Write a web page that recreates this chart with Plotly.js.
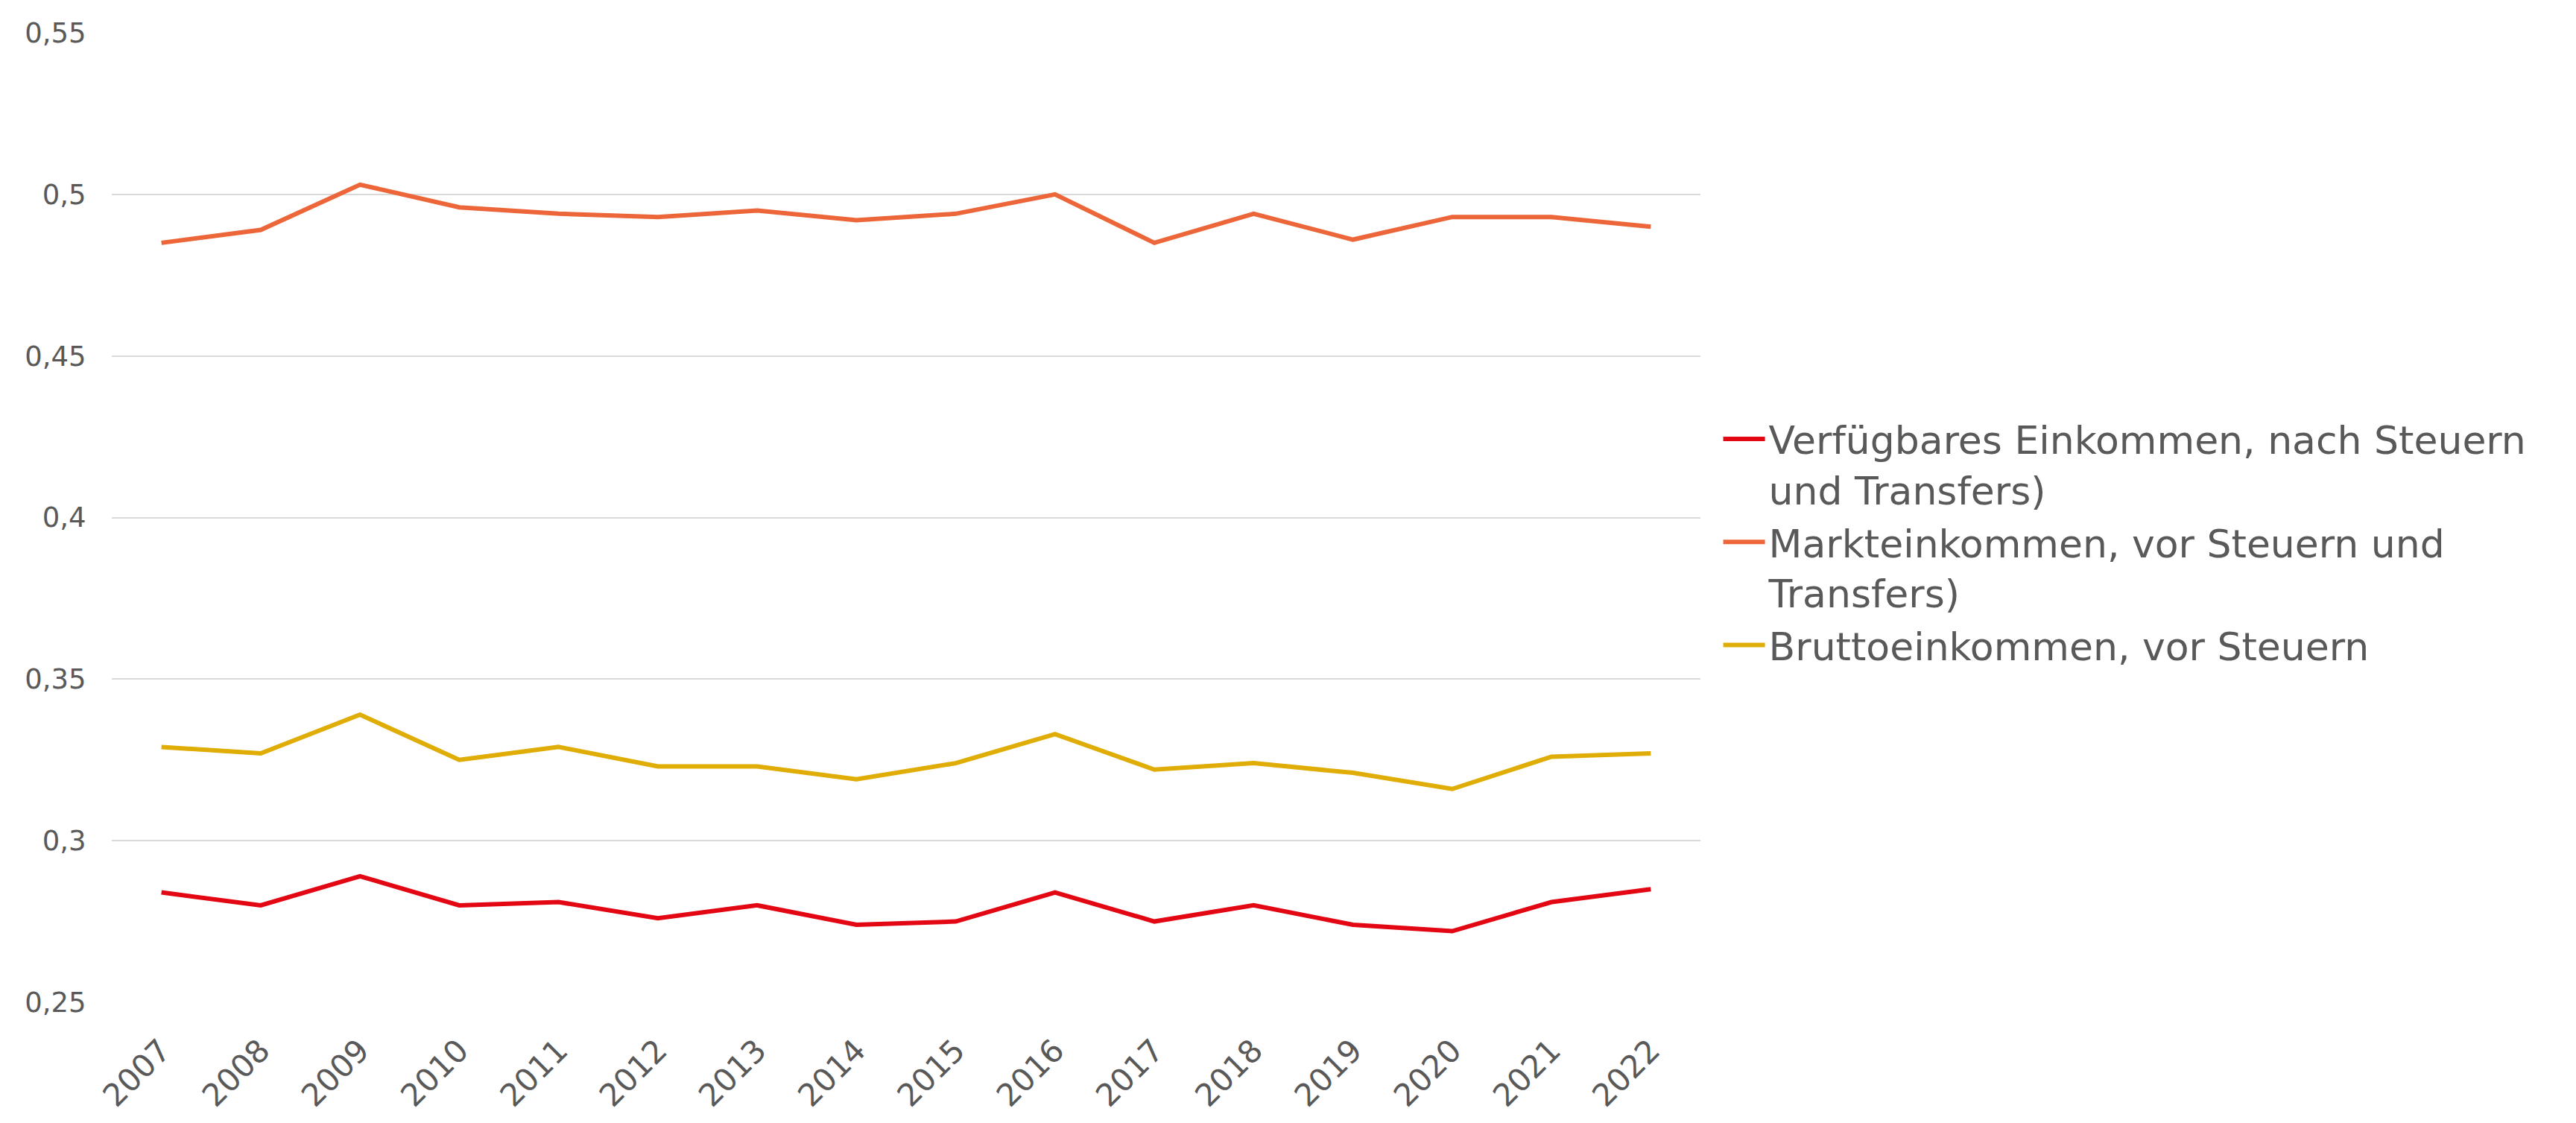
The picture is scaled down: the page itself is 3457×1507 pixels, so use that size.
<!DOCTYPE html>
<html>
<head>
<meta charset="utf-8">
<script src="https://cdn.plot.ly/plotly-3.0.1.min.js"></script>
<style>html,body{margin:0;padding:0;background:#fff;}#chart{width:3457px;height:1507px;}</style>
</head>
<body>
<div id="chart"></div>
<script>
const years = ["2007","2008","2009","2010","2011","2012","2013","2014","2015","2016","2017","2018","2019","2020","2021","2022"];
const verfuegbar = [0.284,0.280,0.289,0.280,0.281,0.276,0.280,0.274,0.275,0.284,0.275,0.280,0.274,0.272,0.281,0.285];
const markt = [0.485,0.489,0.503,0.496,0.494,0.493,0.495,0.492,0.494,0.500,0.485,0.494,0.486,0.493,0.493,0.490];
const brutto = [0.329,0.327,0.339,0.325,0.329,0.323,0.323,0.319,0.324,0.333,0.322,0.324,0.321,0.316,0.326,0.327];
const seriesNames = ["Verfügbares Einkommen, nach Steuern<br>und Transfers)", "Markteinkommen, vor Steuern und<br>Transfers)", "Bruttoeinkommen, vor Steuern"];
const yTickVals = [0.25,0.3,0.35,0.4,0.45,0.5,0.55];
const yTickText = ["0,25","0,3","0,35","0,4","0,45","0,5","0,55"];

const font = "'DejaVu Sans', sans-serif";
const txt = "#595959";
const colors = ["#e30613","#ec663a","#dfad05"];
const data = [verfuegbar, markt, brutto].map((v,i)=>({
  type:"scatter", mode:"lines", x:years, y:v, name:seriesNames[i],
  line:{color:colors[i], width:6}
}));

const layout = {
  width:3457, height:1507,
  paper_bgcolor:"#fff", plot_bgcolor:"#fff",
  margin:{l:150, r:1175, t:44, b:162},
  font:{family:font, color:txt},
  showlegend:true,
  legend:{x:1.012, xanchor:"left", y:0.612, yanchor:"top", valign:"top", itemwidth:56,
    font:{family:font, size:52, color:txt}, bgcolor:"rgba(0,0,0,0)", traceorder:"normal", tracegroupgap:0},
  xaxis:{type:"category", range:[-0.5,15.5], tickangle:-45, tickfont:{family:font, size:42, color:txt},
    showgrid:false, showline:false, zeroline:false, ticks:"outside", ticklen:22, tickcolor:"rgba(0,0,0,0)"},
  yaxis:{range:[0.25,0.55], tickvals:yTickVals, ticktext:yTickText,
    tickfont:{family:font, size:37, color:txt}, showgrid:true, gridcolor:"#d9d9d9", gridwidth:2,
    zeroline:false, showline:false, ticks:"outside", ticklen:26, tickcolor:"rgba(0,0,0,0)"}
};
Plotly.newPlot("chart", data, layout, {displayModeBar:false, staticPlot:true});
</script>
</body>
</html>
